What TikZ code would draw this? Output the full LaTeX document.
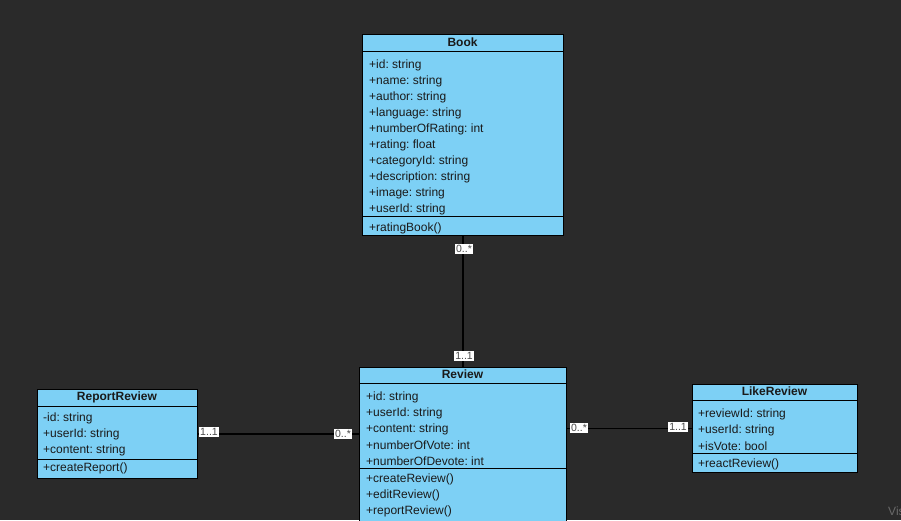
\documentclass[tikz,border=0pt]{standalone}
\usepackage{fontspec}
\setmainfont{Liberation Sans}
\frenchspacing
\definecolor{bgdark}{HTML}{2A2A2A}
\definecolor{boxblue}{HTML}{7DD0F5}
\definecolor{textdark}{HTML}{1A1A1A}
\definecolor{multgray}{HTML}{4A4A4A}
\definecolor{markgray}{HTML}{6A6A6A}
\begin{document}
\begin{tikzpicture}[x=1pt,y=-1pt,
  cls/.style={draw=black, fill=boxblue, line width=1pt, rectangle, inner sep=0pt, anchor=north west},
  member/.style={anchor=west, inner sep=0pt, yshift=-1.5pt, font=\fontsize{12}{14}\selectfont, text=textdark},
  ctitle/.style={anchor=center, inner sep=0pt, yshift=-0.5pt, font=\fontsize{12}{14}\selectfont\bfseries, text=textdark},
  mult/.style={fill=white, inner xsep=1.5pt, inner ysep=1.2pt, font=\fontsize{10.5}{11}\selectfont, text=multgray},
  assoc/.style={draw=black, line width=1.3pt},
  divider/.style={draw=black, line width=1pt}]

\fill[bgdark] (0,0) rectangle (901,520);
\useasboundingbox (0,0) rectangle (901,520);
\clip (0,0) rectangle (901,520);

% ---------- Book ----------
\node[cls, minimum width=201pt, minimum height=201pt] (book) at (362,34) {};
\draw[divider] (362,51) -- (563,51);
\draw[divider] (362,216) -- (563,216);
\node[ctitle] (booktitle) at (462.5,42) {Book};
\foreach \txt [count=\i from 0] in {+id: string,+name: string,+author: string,+language: string,+numberOfRating: int,+rating: float,+categoryId: string,+description: string,+image: string,+userId: string}
  \node[member] (bookattr\i) at (369,64+16*\i) {\txt};
\node[member] (bookop) at (369,227) {+ratingBook()};

% ---------- Review ----------
\node[cls, minimum width=207pt, minimum height=160pt] (review) at (359,367) {};
\draw[divider] (359,383) -- (566,383);
\draw[divider] (359,468) -- (566,468);
\node[ctitle] (reviewtitle) at (462.5,374) {Review};
\foreach \txt [count=\i from 0] in {+id: string,+userId: string,+content: string,+numberOfVote: int,+numberOfDevote: int}
  \node[member] (reviewattr\i) at (366,396+16*\i) {\txt};
\foreach \txt [count=\i from 0] in {+createReview(),+editReview(),+reportReview()}
  \node[member] (reviewop\i) at (366,478+16*\i) {\txt};

% ---------- ReportReview ----------
\node[cls, minimum width=160pt, minimum height=89pt] (report) at (37,389) {};
\draw[divider] (37,406) -- (197,406);
\draw[divider] (37,459) -- (197,459);
\node[ctitle] (reporttitle) at (117,397) {ReportReview};
\foreach \txt [count=\i from 0] in {-id: string,+userId: string,+content: string}
  \node[member] (reportattr\i) at (43,417+16*\i) {\txt};
\node[member] (reportop) at (43,467) {+createReport()};

% ---------- LikeReview ----------
\node[cls, minimum width=165pt, minimum height=88pt] (like) at (692,384) {};
\draw[divider] (692,400) -- (857,400);
\draw[divider] (692,453) -- (857,453);
\node[ctitle] (liketitle) at (774.5,391) {LikeReview};
\foreach \txt [count=\i from 0] in {+reviewId: string,+userId: string,+isVote: bool}
  \node[member] (likeattr\i) at (698,413+16*\i) {\txt};
\node[member] (likeop) at (698,463) {+reactReview()};

% ---------- associations ----------
\draw[assoc] (book.south) -- (review.north);
\draw[assoc, line width=1.1pt] (report.east) -- (report.east -| review.west);
\draw[assoc, line width=1pt] (review.east |- like.west) -- (like.west);

% multiplicities
\node[mult] (m1) at (464,249) {0..*};
\node[mult] (m2) at (464,356) {1..1};
\node[mult] (m3) at (209,432) {1..1};
\node[mult] (m4) at (343,434) {0..*};
\node[mult] (m5) at (579,428) {0..*};
\node[mult] (m6) at (678,427) {1..1};

% watermark, running off the right edge
\node[anchor=west, inner sep=0pt, font=\fontsize{12}{14}\selectfont, text=markgray] (mark) at (888,511) {Vis};
\end{tikzpicture}
\end{document}
